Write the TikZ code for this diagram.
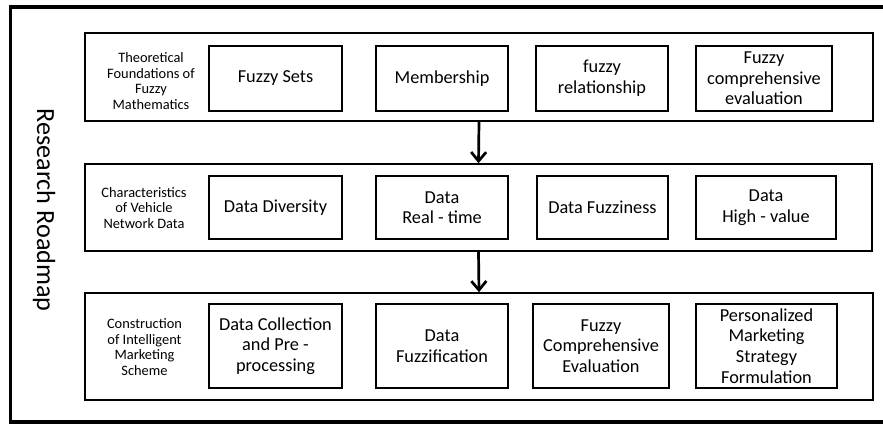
\documentclass[tikz,border=0pt]{standalone}
\usepackage{fontspec}
\setmainfont{Carlito}
\usetikzlibrary{arrows.meta}
\tikzset{
  rowbox/.style={draw=black, line width=1.6pt, inner sep=0pt},
  itembox/.style={draw=black, line width=2.2pt, inner sep=0pt, align=center,
    font=\fontsize{18.3}{20.6}\selectfont},
  rowlabel/.style={inner sep=0pt, align=center, font=\fontsize{14.4}{15.8}\selectfont},
  flowarrow/.style={line width=2.7pt, -{Straight Barb[length=9pt,width=15pt,line width=2.7pt]}}
}
\begin{document}
\begin{tikzpicture}[x=1pt,y=-1pt]
\useasboundingbox (0,0) rectangle (883,425);
% outer frame (open at the right edge of the picture)
\draw[line width=3.6pt] (883,7) -- (10.5,7) -- (10.5,422) -- (883,422);
\node[rotate=-90, anchor=base, inner sep=0pt, font=\fontsize{26.2}{30}\selectfont] (title) at (37,210) {Research Roadmap};

% row frames
\node[rowbox, minimum width=788, minimum height=88] (row1) at (479,77) {};
\node[rowbox, minimum width=787, minimum height=87] (row2) at (478.5,207.5) {};
\node[rowbox, minimum width=788, minimum height=107] (row3) at (479,346.5) {};

% row labels
\node[rowlabel] (lab1) at (151,81) {Theoretical\\Foundations of\\Fuzzy\\Mathematics};
\node[rowlabel] (lab2) at (144,208) {Characteristics\\of Vehicle\\Network Data};
\node[rowlabel] (lab3) at (144.5,347) {Construction\\of Intelligent\\Marketing\\Scheme};

% row 1 items
\node[itembox, minimum width=133, minimum height=65] (a1) at (275.5,78.5) {Fuzzy Sets};
\node[itembox, minimum width=132, minimum height=65] (a2) at (442,78.5) {Membership};
\node[itembox, minimum width=132, minimum height=65] (a3) at (602,78.5) {fuzzy\\relationship};
\node[itembox, minimum width=136, minimum height=65] (a4) at (764,78.5) {Fuzzy\\comprehensive\\evaluation};

% row 2 items
\node[itembox, minimum width=133, minimum height=63] (b1) at (275.5,207.5) {Data Diversity};
\node[itembox, minimum width=132, minimum height=63] (b2) at (442,207.5) {Data\\Real - time};
\node[itembox, minimum width=131, minimum height=63] (b3) at (602.5,207.5) {Data Fuzziness};
\node[itembox, minimum width=140, minimum height=63] (b4) at (766,207.5) {Data\\High - value};

% row 3 items
\node[itembox, minimum width=133, minimum height=84] (c1) at (275.5,346) {Data Collection\\and Pre -\\processing};
\node[itembox, minimum width=132, minimum height=84] (c2) at (442,346) {Data\\Fuzzification};
\node[itembox, minimum width=136, minimum height=84] (c3) at (601,346) {Fuzzy\\Comprehensive\\Evaluation};
\node[itembox, minimum width=141, minimum height=84] (c4) at (766.5,346) {Personalized\\Marketing\\Strategy\\Formulation};

% arrows between rows
\draw[flowarrow] (row1.south) -- (row2.north);
\draw[flowarrow] (row2.south) -- (row3.north);
\end{tikzpicture}
\end{document}
